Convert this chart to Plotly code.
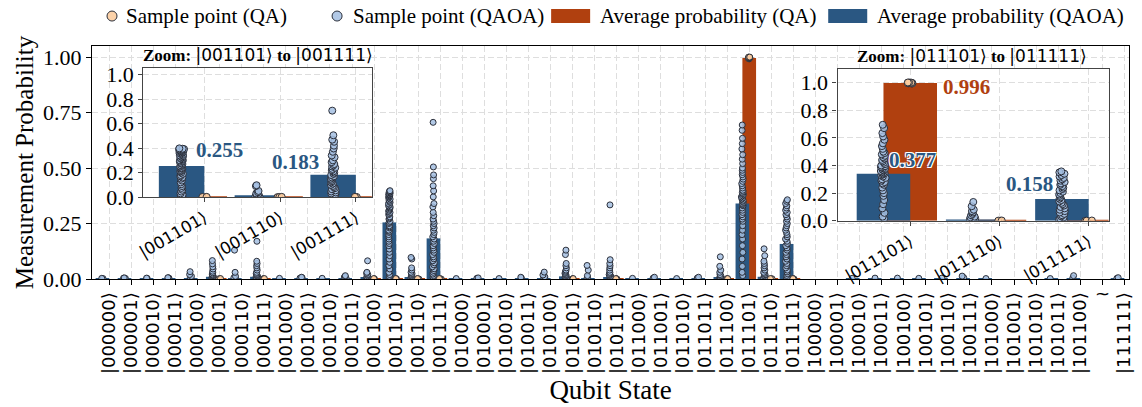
import plotly.graph_objects as go

# ---------------- data ----------------
tick_labels = ['|000000⟩', '|000001⟩', '|000010⟩', '|000011⟩', '|000100⟩', '|000101⟩', '|000110⟩', '|000111⟩',
               '|001000⟩', '|001001⟩', '|001010⟩', '|001011⟩', '|001100⟩', '|001101⟩', '|001110⟩', '|001111⟩',
               '|010000⟩', '|010001⟩', '|010010⟩', '|010011⟩', '|010100⟩', '|010101⟩', '|010110⟩', '|010111⟩',
               '|011000⟩', '|011001⟩', '|011010⟩', '|011011⟩', '|011100⟩', '|011101⟩', '|011110⟩', '|011111⟩',
               '|100000⟩', '|100001⟩', '|100010⟩', '|100011⟩', '|100100⟩', '|100101⟩', '|100110⟩', '|100111⟩',
               '|101000⟩', '|101001⟩', '|101010⟩', '|101011⟩', '|101100⟩', '', '|111111⟩']
gap_label = '~'
gap_index = 45

# average probabilities (bars)
qaoa_mean = [0.001, 0.001, 0.001, 0.001, 0.003, 0.010, 0.004, 0.010,
             0.001, 0.002, 0.001, 0.002, 0.006, 0.255, 0.008, 0.183,
             0.0005, 0.001, 0.0005, 0.002, 0.004, 0.012, 0.004, 0.008,
             0.001, 0.002, 0.0005, 0.002, 0.008, 0.340, 0.010, 0.158,
             0.0, 0.0, 0.001, 0.001, 0.001, 0.001, 0.001, 0.002,
             0.0005, 0.0, 0.0, 0.001, 0.002, None, 0.002]
qa_mean = [0.0, 0.0, 0.0, 0.0, 0.0, 0.001, 0.0, 0.001,
           0.0, 0.0, 0.0, 0.0, 0.001, 0.001, 0.001, 0.001,
           0.0, 0.0, 0.0, 0.0, 0.0, 0.001, 0.0, 0.001,
           0.0, 0.0, 0.0, 0.0, 0.001, 0.996, 0.001, 0.001,
           0.0, 0.0, 0.0, 0.0, 0.0, 0.0, 0.0, 0.0,
           0.0, 0.0, 0.0, 0.0, 0.0, None, 0.0]

# QAOA sample points per state
qaoa_000000 = [0.002, 0.003]
qaoa_000001 = [0.003, 0.005, 0.004]
qaoa_000010 = [0.004, 0.003]
qaoa_000011 = [0.004, 0.006, 0.005]
qaoa_000100 = [0.002, 0.006, 0.012, 0.020, 0.033]
qaoa_000101 = [0.002, 0.004, 0.006, 0.008, 0.010, 0.012, 0.015, 0.018, 0.022, 0.028, 0.035, 0.045, 0.055, 0.068, 0.083]
qaoa_000110 = [0.003, 0.006, 0.012, 0.030, 0.130]
qaoa_000111 = [0.002, 0.004, 0.006, 0.008, 0.010, 0.013, 0.016, 0.020, 0.025, 0.030, 0.040, 0.050, 0.060, 0.070, 0.080, 0.170]
qaoa_001000 = [0.003]
qaoa_001001 = [0.004, 0.008, 0.006]
qaoa_001010 = [0.003]
qaoa_001011 = [0.004, 0.008, 0.012, 0.015]
qaoa_001100 = [0.003, 0.006, 0.010, 0.015, 0.020, 0.025, 0.030, 0.082]
qaoa_001101 = [0.004, 0.012, 0.020, 0.030, 0.045, 0.060, 0.075, 0.090, 0.105, 0.120, 0.135, 0.150, 0.160, 0.170,
               0.180, 0.190, 0.200, 0.210, 0.215, 0.220, 0.230, 0.235, 0.240, 0.250, 0.255, 0.260, 0.270, 0.275,
               0.280, 0.290, 0.295, 0.300, 0.305, 0.310, 0.315, 0.320, 0.325, 0.330, 0.335, 0.340, 0.345, 0.350,
               0.355, 0.360, 0.365, 0.370, 0.372, 0.375, 0.378, 0.380, 0.383, 0.386, 0.389, 0.392, 0.395, 0.398]
qaoa_001110 = [0.003, 0.006, 0.010, 0.015, 0.020, 0.025, 0.030, 0.040, 0.050, 0.090, 0.097]
qaoa_001111 = [0.002, 0.008, 0.015, 0.022, 0.030, 0.038, 0.046, 0.055, 0.064, 0.073, 0.082, 0.091, 0.100, 0.110,
               0.120, 0.130, 0.140, 0.150, 0.160, 0.170, 0.180, 0.190, 0.200, 0.210, 0.220, 0.230, 0.240, 0.250,
               0.260, 0.270, 0.285, 0.300, 0.325, 0.340, 0.370, 0.397, 0.420, 0.452, 0.469, 0.505, 0.706]
qaoa_010000 = [0.002]
qaoa_010001 = [0.003, 0.005]
qaoa_010010 = [0.002]
qaoa_010011 = [0.004, 0.008]
qaoa_010100 = [0.003, 0.006, 0.010, 0.018, 0.031]
qaoa_010101 = [0.002, 0.005, 0.008, 0.012, 0.016, 0.020, 0.025, 0.030, 0.035, 0.040, 0.050, 0.060, 0.070, 0.110, 0.130]
qaoa_010110 = [0.003, 0.008, 0.015, 0.040, 0.061]
qaoa_010111 = [0.002, 0.005, 0.008, 0.012, 0.016, 0.020, 0.025, 0.030, 0.040, 0.050, 0.060, 0.070, 0.087, 0.334]
qaoa_011000 = [0.003]
qaoa_011001 = [0.004, 0.008]
qaoa_011010 = [0.002]
qaoa_011011 = [0.004, 0.008]
qaoa_011100 = [0.003, 0.006, 0.010, 0.015, 0.020, 0.030, 0.040, 0.057, 0.100]
qaoa_011101 = [0.015, 0.030, 0.057, 0.090, 0.120, 0.150, 0.180, 0.200, 0.220, 0.240, 0.260, 0.270, 0.280, 0.290,
               0.300, 0.310, 0.320, 0.330, 0.335, 0.340, 0.345, 0.350, 0.355, 0.360, 0.365, 0.370, 0.375, 0.380,
               0.385, 0.390, 0.395, 0.400, 0.410, 0.420, 0.430, 0.440, 0.450, 0.460, 0.470, 0.480, 0.490, 0.500,
               0.520, 0.540, 0.560, 0.586, 0.610, 0.634, 0.670, 0.694]
qaoa_011110 = [0.003, 0.006, 0.010, 0.015, 0.020, 0.025, 0.030, 0.040, 0.050, 0.060, 0.070, 0.080, 0.105, 0.136]
qaoa_011111 = [0.000, 0.008, 0.016, 0.024, 0.032, 0.040, 0.050, 0.060, 0.070, 0.080, 0.090, 0.100, 0.110, 0.120,
               0.130, 0.140, 0.150, 0.160, 0.170, 0.180, 0.190, 0.200, 0.210, 0.220, 0.230, 0.240, 0.250, 0.260,
               0.270, 0.280, 0.290, 0.300, 0.310, 0.320, 0.330, 0.340, 0.350, 0.357]
qaoa_100010 = [0.003]
qaoa_100011 = [0.004]
qaoa_100100 = [0.004]
qaoa_100101 = [0.003]
qaoa_100110 = [0.004]
qaoa_100111 = [0.006, 0.013]
qaoa_101000 = [0.002]
qaoa_101011 = [0.002]
qaoa_101100 = [0.004, 0.015]
qaoa_111111 = [0.003, 0.006]

# QA sample points (estimated)
qa_zero = [0.0, 0.001, 0.002]
qa_011101 = [0.992, 0.994, 0.995, 0.996, 0.997, 0.998, 0.999, 1.0, 1.0, 0.996]

qaoa_samples = [qaoa_000000, qaoa_000001, qaoa_000010, qaoa_000011, qaoa_000100, qaoa_000101, qaoa_000110, qaoa_000111,
                qaoa_001000, qaoa_001001, qaoa_001010, qaoa_001011, qaoa_001100, qaoa_001101, qaoa_001110, qaoa_001111,
                qaoa_010000, qaoa_010001, qaoa_010010, qaoa_010011, qaoa_010100, qaoa_010101, qaoa_010110, qaoa_010111,
                qaoa_011000, qaoa_011001, qaoa_011010, qaoa_011011, qaoa_011100, qaoa_011101, qaoa_011110, qaoa_011111,
                [], [], qaoa_100010, qaoa_100011, qaoa_100100, qaoa_100101, qaoa_100110, qaoa_100111,
                qaoa_101000, [], [], qaoa_101011, qaoa_101100, [], qaoa_111111]
qa_samples = [[], [], [], [], [], qa_zero, [], qa_zero,
              [], [], [], [], qa_zero, qa_zero, qa_zero, qa_zero,
              [], [], [], [], [], qa_zero, [], qa_zero,
              [], [], [], [], qa_zero, qa_011101, qa_zero, qa_zero,
              [], [], [], [], [], [], [], [],
              [], [], [], [], [], [], []]

zoom1_idx = [13, 14, 15]
zoom2_idx = [29, 30, 31]

# ---------------- style ----------------
BLUE = '#2a5782'
ORANGE = '#b0400f'
QAOA_FILL = 'rgba(165,192,226,0.85)'
QA_FILL = 'rgba(252,205,160,0.9)'
EDGE = '#2b2f3a'
SERIF = 'Liberation Serif'
SANS = 'DejaVu Sans'
GRID = '#dedede'
GDASH = '6px,3px'

W, H = 1142, 407
L, R, T, B = 92, 1128.7, 46, 279.3


def fx(p):
    return (p - L) / (R - L)


def fy(p):
    return (B - p) / (B - T)


positions = list(range(len(tick_labels)))

fig = go.Figure()


def add_group(idxs, xa, ya, wbar, qaoa_jw, qa_jw, msize):
    pos = list(range(len(idxs))) if xa != 'x' else idxs
    fig.add_trace(go.Bar(x=pos, y=[qa_mean[i] for i in idxs], offset=-wbar / 2, width=wbar,
                         marker=dict(color=ORANGE, line=dict(width=0)), xaxis=xa, yaxis=ya,
                         showlegend=False, hoverinfo='skip'))
    fig.add_trace(go.Bar(x=pos, y=[qaoa_mean[i] for i in idxs], offset=-wbar, width=wbar,
                         marker=dict(color=BLUE, line=dict(width=0)), xaxis=xa, yaxis=ya,
                         showlegend=False, hoverinfo='skip'))
    bx, by = [], []
    for p, i in zip(pos, idxs):
        for v in qaoa_samples[i]:
            bx.append(p - wbar / 2)
            by.append(v)
    fig.add_trace(go.Box(x=bx, y=by, boxpoints='all', jitter=1, pointpos=0, width=qaoa_jw,
                         fillcolor='rgba(0,0,0,0)', line=dict(width=0, color='rgba(0,0,0,0)'),
                         whiskerwidth=0, marker=dict(size=msize, color=QAOA_FILL, line=dict(width=1, color=EDGE)),
                         xaxis=xa, yaxis=ya, showlegend=False, hoverinfo='skip'))
    qx, qy = [], []
    for p, i in zip(pos, idxs):
        for v in qa_samples[i]:
            qx.append(p)
            qy.append(v)
    fig.add_trace(go.Box(x=qx, y=qy, boxpoints='all', jitter=1, pointpos=0, width=qa_jw,
                         fillcolor='rgba(0,0,0,0)', line=dict(width=0, color='rgba(0,0,0,0)'),
                         whiskerwidth=0, marker=dict(size=msize, color=QA_FILL, line=dict(width=1, color=EDGE)),
                         xaxis=xa, yaxis=ya, showlegend=False, hoverinfo='skip'))


main_idx = [i for i in positions if i != gap_index]
add_group(main_idx, 'x', 'y', 0.62, 0.10, 0.10, 6)
add_group(zoom1_idx, 'x2', 'y2', 0.6, 0.07, 0.08, 7)
add_group(zoom2_idx, 'x3', 'y3', 0.6, 0.07, 0.08, 7)

axis_common = dict(showline=True, mirror=True, ticks='outside', showgrid=True, gridcolor=GRID,
                   griddash=GDASH, gridwidth=1, zeroline=False, automargin=False)

fig.update_layout(
    width=W, height=H,
    margin=dict(l=L, r=W - R, t=T, b=H - B, autoexpand=False),
    paper_bgcolor='white', plot_bgcolor='#ffffff',
    barmode='overlay', boxmode='overlay',
    showlegend=False,
    xaxis=dict(axis_common, range=[-0.784, 46.21], tickvals=positions, ticktext=tick_labels,
               tickangle=-90, ticklen=5, tickcolor='black', linecolor='black', linewidth=1.2,
               tickfont=dict(family=SANS, size=18, color='black'),
               title=dict(text='Qubit State', font=dict(family=SERIF, size=27, color='black'), standoff=6)),
    yaxis=dict(axis_common, range=[0, 1.05], tickvals=[0, 0.25, 0.5, 0.75, 1.0],
               ticktext=['0.00', '0.25', '0.50', '0.75', '1.00'], ticklen=5, tickcolor='black',
               linecolor='black', linewidth=1.2,
               tickfont=dict(family=SERIF, size=22, color='black'),
               title=dict(text='Measurement Probability', font=dict(family=SERIF, size=25, color='black'),
                          standoff=2)),
    xaxis2=dict(axis_common, domain=[fx(143.3), fx(371.7)], anchor='y2', range=[-0.805, 2.21],
                tickvals=[0, 1, 2], ticktext=[tick_labels[i] for i in zoom1_idx], tickangle=-30,
                ticklen=4, tickcolor='#444', linecolor='#444', linewidth=1.2,
                tickfont=dict(family=SANS, size=16.5, color='black')),
    yaxis2=dict(axis_common, domain=[fy(197.3), fy(68.3)], anchor='x2', range=[0, 1.052],
                tickvals=[0, 0.2, 0.4, 0.6, 0.8, 1.0], ticktext=['0.0', '0.2', '0.4', '0.6', '0.8', '1.0'],
                ticklen=4, tickcolor='#444', linecolor='#444', linewidth=1.2,
                tickfont=dict(family=SERIF, size=22, color='black')),
    xaxis3=dict(axis_common, domain=[fx(837.3), fx(1108.3)], anchor='y3', range=[-0.815, 2.223],
                tickvals=[0, 1, 2], ticktext=[tick_labels[i] for i in zoom2_idx], tickangle=-30,
                ticklen=4, tickcolor='#444', linecolor='#444', linewidth=1.2,
                tickfont=dict(family=SANS, size=16.5, color='black')),
    yaxis3=dict(axis_common, domain=[fy(221), fy(68.7)], anchor='x3', range=[0, 1.1],
                tickvals=[0, 0.2, 0.4, 0.6, 0.8, 1.0], ticktext=['0.0', '0.2', '0.4', '0.6', '0.8', '1.0'],
                ticklen=4, tickcolor='#444', linecolor='#444', linewidth=1.2,
                tickfont=dict(family=SERIF, size=22, color='black')),
)

ann = []
# gap marker on main axis
ann.append(dict(x=gap_index, y=fy(294), xref='x', yref='paper', text=gap_label, showarrow=False,
                xanchor='center', yanchor='middle', font=dict(family=SANS, size=18, color='black')))


def ket_title(a, b):
    return ("<b>Zoom:</b> <span style='font-family:DejaVu Sans'>%s</span> <b>to</b> "
            "<span style='font-family:DejaVu Sans'>%s</span>") % (a, b)


ann.append(dict(x=fx(257.5), y=fy(55.5), xref='paper', yref='paper', showarrow=False,
                xanchor='center', yanchor='middle',
                text=ket_title(tick_labels[13], tick_labels[15]),
                font=dict(family=SERIF, size=17, color='black')))
ann.append(dict(x=fx(972), y=fy(56), xref='paper', yref='paper', showarrow=False,
                xanchor='center', yanchor='middle',
                text=ket_title(tick_labels[29], tick_labels[31]),
                font=dict(family=SERIF, size=17, color='black')))

lab_font = dict(family=SERIF, size=21, weight='bold')
ann.append(dict(x=0.2, y=0.386, xref='x2', yref='y2', text='0.255', showarrow=False,
                xanchor='center', yanchor='middle', font=dict(lab_font, color=BLUE)))
ann.append(dict(x=1.197, y=0.288, xref='x2', yref='y2', text='0.183', showarrow=False,
                xanchor='center', yanchor='middle', font=dict(lab_font, color=BLUE)))
ann.append(dict(x=0.63, y=0.971, xref='x3', yref='y3', text='0.996', showarrow=False,
                xanchor='center', yanchor='middle', font=dict(lab_font, color=ORANGE)))
ann.append(dict(x=0.028, y=0.441, xref='x3', yref='y3', text='0.377', showarrow=False,
                xanchor='center', yanchor='middle',
                font=dict(lab_font, color=BLUE,
                          shadow='1px 1px 0 white, -1px -1px 0 white, 1px -1px 0 white, -1px 1px 0 white')))
ann.append(dict(x=1.334, y=0.268, xref='x3', yref='y3', text='0.158', showarrow=False,
                xanchor='center', yanchor='middle', font=dict(lab_font, color=BLUE)))

# legend (drawn manually to mimic wide patches)
leg_y = 16
leg_font = dict(family=SERIF, size=21, color='black')
shapes = []
for cx, fill in [(112, QA_FILL), (337, QAOA_FILL)]:
    shapes.append(dict(type='circle', xref='paper', yref='paper', x0=fx(cx - 5), x1=fx(cx + 5),
                       y0=fy(leg_y + 5), y1=fy(leg_y - 5), fillcolor=fill, line=dict(color=EDGE, width=1)))
for x0, x1, col in [(551, 590, ORANGE), (828, 867, BLUE)]:
    shapes.append(dict(type='rect', xref='paper', yref='paper', x0=fx(x0), x1=fx(x1),
                       y0=fy(leg_y + 7), y1=fy(leg_y - 7), fillcolor=col, line=dict(width=0)))
for tx, txt in [(124, 'Sample point (QA)'), (351, 'Sample point (QAOA)'),
                (598, 'Average probability (QA)'), (875, 'Average probability (QAOA)')]:
    ann.append(dict(x=fx(tx), y=fy(leg_y), xref='paper', yref='paper', xanchor='left', yanchor='middle',
                    text=txt, showarrow=False, font=leg_font))

fig.update_layout(annotations=ann, shapes=shapes)
fig.write_html("out.html")
